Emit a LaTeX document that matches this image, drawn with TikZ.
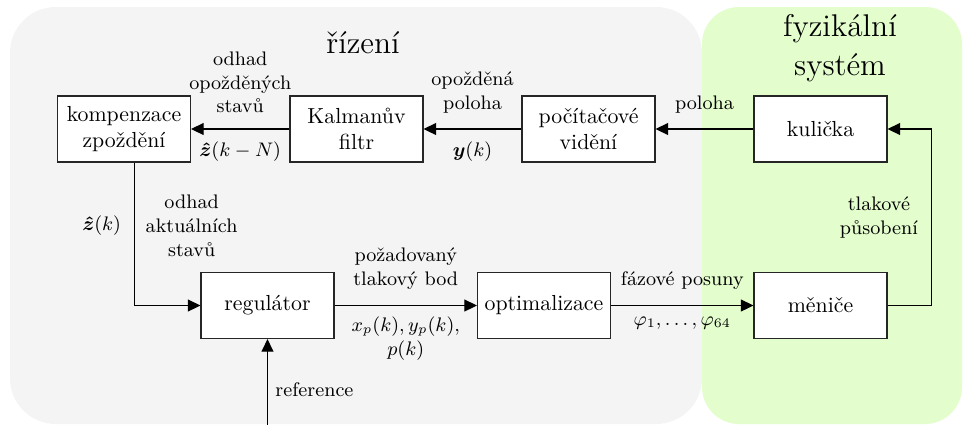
\documentclass[tikz,border=0pt]{standalone}
\usepackage{amsmath}
\usepackage{bm}
\usetikzlibrary{arrows.meta,positioning}
\definecolor{regiongray}{RGB}{244,244,244}
\definecolor{regiongreen}{RGB}{227,253,205}
\begin{document}
\begin{tikzpicture}[x=0.4587pt,y=-0.4587pt,
  box/.style={draw=black!85,fill=white,line width=0.5pt,minimum width=61pt,minimum height=30.3pt,inner sep=2pt,align=center,font=\normalsize},
  conn/.style={line width=0.5pt,-{Triangle[length=5.8pt,width=5.5pt]}},
  lbl/.style={font=\small,align=center,inner sep=1pt},
  title/.style={font=\Large,align=center,inner sep=0pt}]
\useasboundingbox (0,0) rectangle (963,425);
\fill[regiongray,rounded corners=21pt] (10,7) rectangle (702,424);
\fill[regiongreen,rounded corners=17pt] (702,7) rectangle (962,424);
\node[title,anchor=base] (tr) at (363,53) {řízení};
\node[title] (tf) at (840,48) {fyzikální\\systém};
\node[box] (komp) at (124,129) {kompenzace\\zpoždění};
\node[box] (kal) at (356.5,129) {Kalmanův\\filtr};
\node[box] (pc) at (588.5,129) {počítačové\\vidění};
\node[box] (kul) at (820.5,129) {kulička};
\node[box] (reg) at (267.5,305.5) {regulátor};
\node[box] (opt) at (544,305.5) {optimalizace};
\node[box] (men) at (820.5,305.5) {měniče};
\coordinate (refin) at (267.5,425);
\draw[conn] (kul) -- node[lbl,above=6pt]{poloha} (pc);
\draw[conn] (pc) -- node[lbl,above=6pt]{opožděná\\poloha} node[lbl,below=4.5pt]{$\bm{y}(k)$} (kal);
\draw[conn] (kal) -- node[lbl,above=6pt]{odhad\\opožděných\\stavů} node[lbl,below=4.5pt]{$\bm{\hat{z}}(k-N)$} (komp);
\draw[conn] ([xshift=4.9pt]komp.south) |- node[lbl,pos=0.22,left=5pt]{$\bm{\hat{z}}(k)$} node[lbl,pos=0.22,right=3.8pt]{odhad\\aktuálních\\stavů} (reg.west);
\draw[conn] (reg) -- node[lbl,above=6pt]{požadovaný\\tlakový bod} node[lbl,below=4pt]{$x_p(k), y_p(k),$\\$p(k)$} (opt);
\draw[conn] (opt) -- node[lbl,above=6pt]{fázové posuny} node[lbl,below=4pt]{$\varphi_1,\dots,\varphi_{64}$} (men);
\draw[conn] (men.east) -- ++(44,0) |- node[lbl,pos=0.25,left=5pt]{tlakové\\působení} (kul.east);
\draw[conn] (refin) -- node[lbl,pos=0.41,right=2.4pt]{reference} (reg.south);
\end{tikzpicture}
\end{document}
